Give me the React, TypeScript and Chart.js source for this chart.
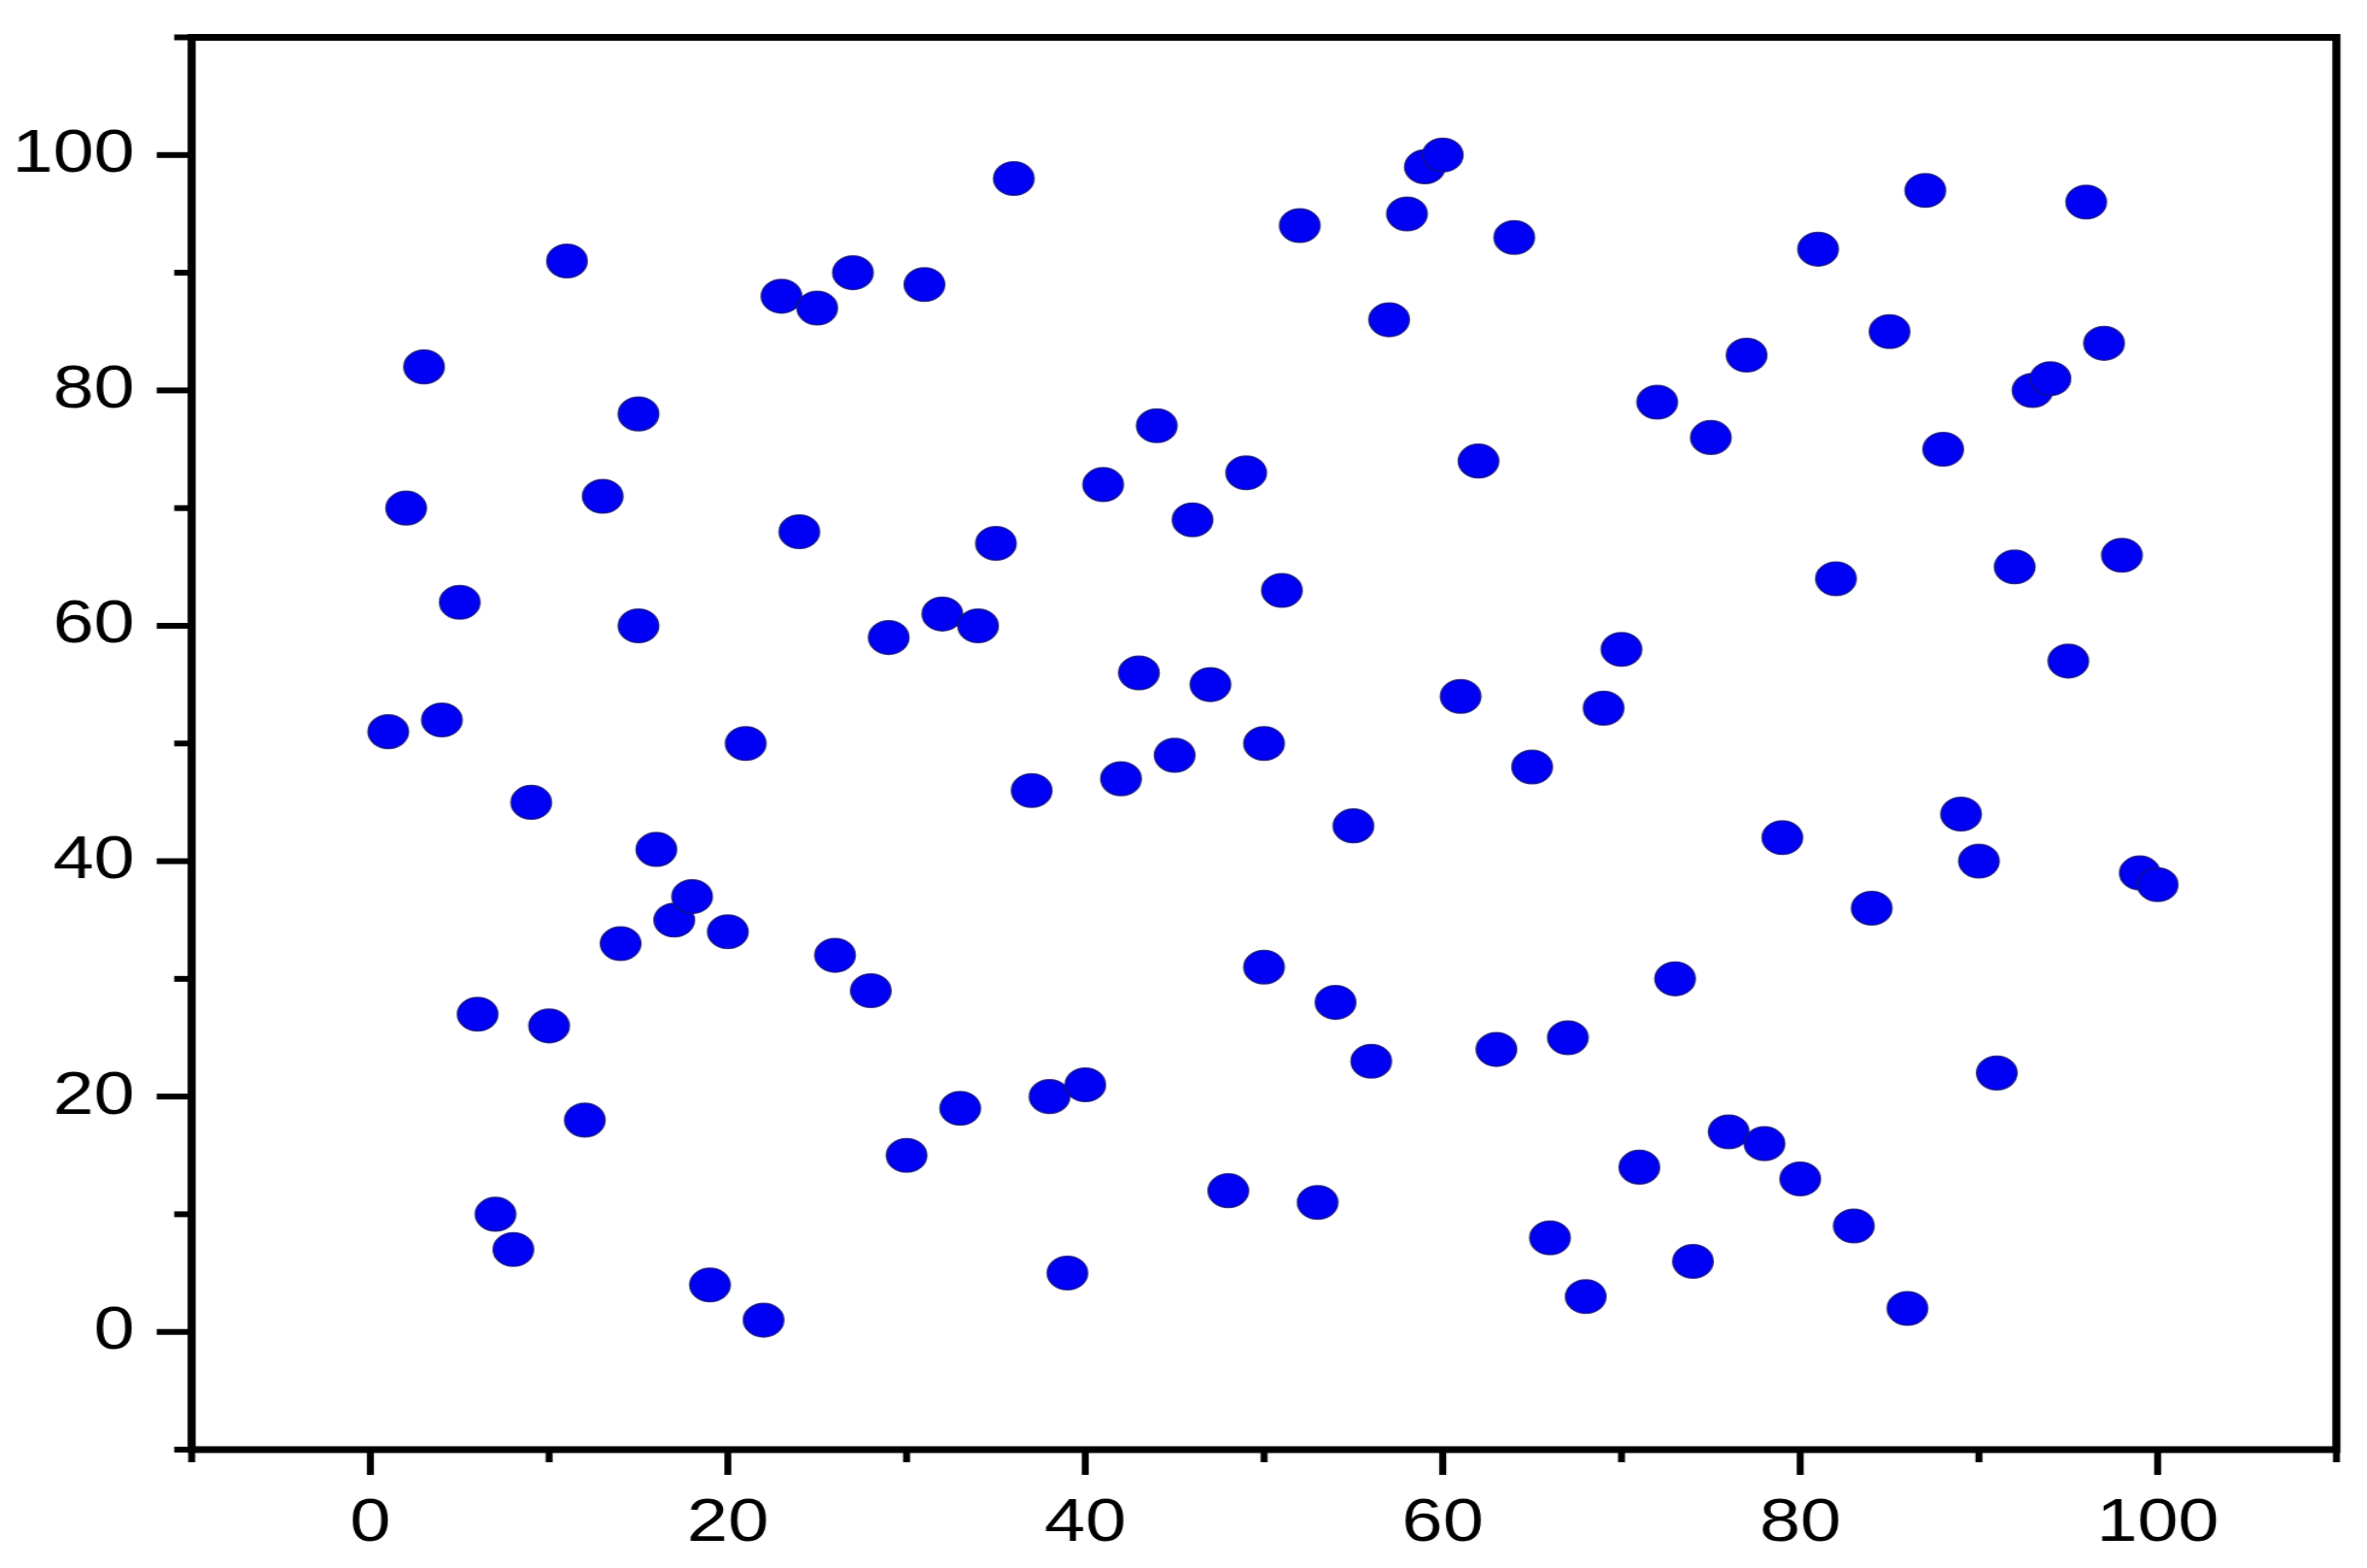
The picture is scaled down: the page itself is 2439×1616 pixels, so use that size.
import React, { useEffect, useRef } from 'react';
import { Chart, registerables } from 'chart.js';

Chart.register(...registerables);

// x positions of the points
const xValues = [
  1, 2, 3, 4, 5, 6, 7, 8, 9, 10,
  11, 12, 13, 14, 15, 15, 16, 17, 18, 19, 20,
  21, 22, 23, 24, 25, 26, 27, 28, 29, 30,
  31, 32, 33, 34, 35, 36, 37, 38, 39, 40,
  41, 42, 43, 44, 45, 46, 47, 48, 49, 50, 50,
  51, 52, 53, 54, 55, 56, 57, 58, 59, 60,
  61, 62, 63, 64, 65, 66, 67, 68, 69, 70,
  71, 72, 73, 74, 75, 76, 77, 78, 79, 80,
  81, 82, 83, 84, 85, 86, 87, 88, 89, 90,
  91, 92, 93, 94, 95, 96, 97, 98, 99, 100,
];

// y values of the points (same order as xValues)
const yValues = [
  51, 70, 82, 52, 62, 27, 10, 7, 45, 26,
  91, 18, 71, 33, 78, 60, 41, 35, 37, 4, 34,
  50, 1, 88, 68, 87, 32, 90, 29, 59, 15,
  89, 61, 19, 60, 67, 98, 46, 20, 5, 21,
  72, 47, 56, 77, 49, 69, 55, 12, 73, 50, 31,
  63, 94, 11, 28, 43, 23, 86, 95, 99, 100,
  54, 74, 24, 93, 48, 8, 25, 3, 53, 58,
  14, 79, 30, 6, 76, 17, 83, 16, 42, 13,
  92, 64, 9, 36, 85, 2, 97, 75, 44, 40,
  22, 65, 80, 81, 57, 96, 84, 66, 39, 38,
];

const xTickLabels = [0, 20, 40, 60, 80, 100];
const yTickLabels = [0, 20, 40, 60, 80, 100];
const axisMin = -10;
const axisMax = 110;
const tickStep = 10;

const PAGE_W = 2439;
const PAGE_H = 1616;
const STRETCH = 1.2;
const CANVAS_W = Math.round(PAGE_W / STRETCH);
const CANVAS_H = PAGE_H;

const framePlugin = {
  id: 'frameTicks',
  afterDraw(chart: any) {
    const { ctx, chartArea } = chart;
    const { left, right, top, bottom } = chartArea;
    const xs = chart.scales.x;
    const ys = chart.scales.y;
    ctx.save();
    ctx.strokeStyle = '#000';
    ctx.lineCap = 'butt';
    // ticks on bottom axis
    ctx.lineWidth = 6;
    for (const t of xs.ticks) {
      const px = xs.getPixelForValue(t.value);
      const len = t.value % 20 === 0 ? 26 : 13;
      ctx.beginPath();
      ctx.moveTo(px, bottom);
      ctx.lineTo(px, bottom + len);
      ctx.stroke();
    }
    // ticks on left axis
    ctx.lineWidth = 6;
    for (const t of ys.ticks) {
      const py = ys.getPixelForValue(t.value);
      const len = t.value % 20 === 0 ? 30 : 15;
      ctx.beginPath();
      ctx.moveTo(left, py);
      ctx.lineTo(left - len, py);
      ctx.stroke();
    }
    // frame
    ctx.lineWidth = 7;
    ctx.lineJoin = 'miter';
    ctx.strokeRect(left, top, right - left, bottom - top);
    ctx.restore();
  },
};

export default function App() {
  const canvasRef = useRef<HTMLCanvasElement | null>(null);

  useEffect(() => {
    const canvas = canvasRef.current;
    if (!canvas) return;
    const points = xValues.map((x, i) => ({ x, y: yValues[i] }));
    const tickFont = { family: "'Liberation Sans', Arial, sans-serif", size: 63 };
    const chart = new Chart(canvas, {
      type: 'scatter',
      data: {
        datasets: [
          {
            data: points,
            backgroundColor: '#0000f5',
            borderColor: 'rgba(20, 20, 130, 0.85)',
            borderWidth: 1.5,
            pointRadius: 17.3,
            pointHoverRadius: 17.3,
            pointStyle: 'circle',
          },
        ],
      },
      options: {
        responsive: false,
        devicePixelRatio: 1,
        animation: false,
        events: [],
        layout: {
          autoPadding: false,
          padding: { left: 0, right: CANVAS_W - 2006.7, top: 38.5, bottom: 0 },
        },
        plugins: {
          legend: { display: false },
          tooltip: { enabled: false },
          title: { display: false },
        },
        scales: {
          x: {
            type: 'linear',
            position: 'bottom',
            min: axisMin,
            max: axisMax,
            grid: { display: false },
            border: { display: false },
            ticks: {
              stepSize: tickStep,
              autoSkip: false,
              maxRotation: 0,
              minRotation: 0,
              padding: 31,
              color: '#000',
              font: tickFont,
              callback: (v: any) => (xTickLabels.includes(Number(v)) ? String(v) : ''),
            },
            afterFit: (scale: any) => {
              scale.height = CANVAS_H - 1494;
              scale.paddingLeft = 0;
              scale.paddingRight = 0;
            },
          },
          y: {
            type: 'linear',
            position: 'left',
            min: axisMin,
            max: axisMax,
            grid: { display: false },
            border: { display: false },
            ticks: {
              stepSize: tickStep,
              autoSkip: false,
              padding: 41,
              color: '#000',
              font: tickFont,
              callback: (v: any) => (yTickLabels.includes(Number(v)) ? String(v) : ''),
            },
            afterFit: (scale: any) => {
              scale.width = 164.6;
              scale.paddingTop = 0;
              scale.paddingBottom = 0;
            },
          },
        },
      },
      plugins: [framePlugin],
    });
    return () => {
      chart.destroy();
    };
  }, []);

  return (
    <div
      style={{
        position: 'fixed',
        left: 0,
        top: 0,
        width: PAGE_W,
        height: PAGE_H,
        background: '#fff',
        overflow: 'hidden',
      }}
    >
      <canvas
        ref={canvasRef}
        width={CANVAS_W}
        height={CANVAS_H}
        style={{ width: `${PAGE_W}px`, height: `${PAGE_H}px`, display: 'block' }}
      />
    </div>
  );
}
